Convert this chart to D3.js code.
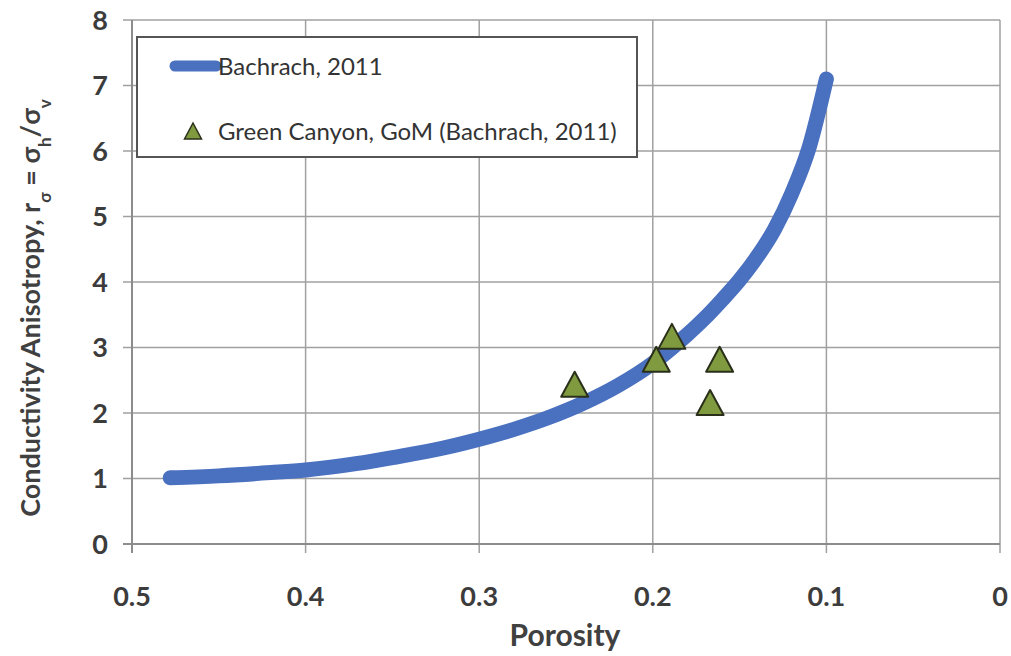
<!DOCTYPE html>
<html>
<head>
<meta charset="utf-8">
<script src="https://cdn.jsdelivr.net/npm/d3@7"></script>
<style>
  body { margin: 0; background: #fff; }
  text { font-family: Lato, "Open Sans", sans-serif; }
</style>
</head>
<body>
<div id="chart"></div>
<script>
// curve (porosity, anisotropy)
var curvePorosity = [0.478, 0.45, 0.42, 0.40, 0.37, 0.35, 0.32, 0.30, 0.28, 0.26, 0.24, 0.22, 0.20, 0.19, 0.18, 0.17, 0.16, 0.15, 0.14, 0.13, 0.12, 0.11, 0.10];
var curveAniso    = [1.01, 1.04, 1.09, 1.13, 1.23, 1.32, 1.47, 1.60, 1.75, 1.93, 2.15, 2.42, 2.76, 2.97, 3.20, 3.45, 3.73, 4.03, 4.38, 4.80, 5.35, 6.05, 7.10];

// Green Canyon points
var gcPorosity = [0.245, 0.198, 0.189, 0.1615, 0.167];
var gcAniso    = [2.44, 2.82, 3.17, 2.82, 2.16];

var xTicks = [0.5, 0.4, 0.3, 0.2, 0.1, 0];
var yTicks = [0, 1, 2, 3, 4, 5, 6, 7, 8];

var width = 1011, height = 656;
var margin = {top: 20, right: 11, bottom: 112, left: 132};

var svg = d3.select("#chart").append("svg")
  .attr("width", width)
  .attr("height", height);

var x = d3.scaleLinear().domain([0.5, 0]).range([margin.left, width - margin.right]);
var y = d3.scaleLinear().domain([0, 8]).range([height - margin.bottom, margin.top]);

/****** GRID ******/
svg.append("g").selectAll("line")
  .data(yTicks)
  .enter().append("line")
    .attr("x1", margin.left - 9).attr("x2", x(0))
    .attr("y1", d => y(d)).attr("y2", d => y(d))
    .attr("stroke", "#a0a0a0").attr("stroke-width", 1.5);

svg.append("g").selectAll("line")
  .data(xTicks)
  .enter().append("line")
    .attr("x1", d => x(d)).attr("x2", d => x(d))
    .attr("y1", y(8)).attr("y2", y(0) + 9)
    .attr("stroke", "#a0a0a0").attr("stroke-width", 1.5);

// axis lines
svg.append("line")
  .attr("x1", x(0.5)).attr("x2", x(0.5)).attr("y1", y(8)).attr("y2", y(0) + 9)
  .attr("stroke", "#8c8c8c").attr("stroke-width", 2);
svg.append("line")
  .attr("x1", x(0.5) - 9).attr("x2", x(0)).attr("y1", y(0)).attr("y2", y(0))
  .attr("stroke", "#8c8c8c").attr("stroke-width", 2);

/****** TICK LABELS ******/
svg.append("g").selectAll("text")
  .data(yTicks)
  .enter().append("text")
    .attr("x", 108).attr("y", d => y(d))
    .attr("dy", "0.36em")
    .attr("text-anchor", "end")
    .style("font-size", "27px")
    .style("font-weight", "bold")
    .style("fill", "#3c3c3c")
    .text(d => d);

svg.append("g").selectAll("text")
  .data(xTicks)
  .enter().append("text")
    .attr("x", d => x(d)).attr("y", 606)
    .attr("text-anchor", "middle")
    .style("font-size", "27px")
    .style("font-weight", "bold")
    .style("fill", "#3c3c3c")
    .text(d => d === 0 ? "0" : d3.format(".1f")(d));

/****** AXIS TITLES ******/
svg.append("text")
  .attr("x", 565).attr("y", 646)
  .attr("text-anchor", "middle")
  .style("font-size", "30px").style("font-weight", "bold").style("fill", "#404040")
  .text("Porosity");

var yt = svg.append("text")
  .attr("transform", "translate(40,308) rotate(-90)")
  .attr("text-anchor", "middle")
  .style("font-size", "27px").style("font-weight", "bold").style("fill", "#404040");
yt.append("tspan").text("Conductivity Anisotropy, r");
yt.append("tspan").attr("baseline-shift", "sub").style("font-size", "17px").text("σ");
yt.append("tspan").text(" = σ");
yt.append("tspan").attr("baseline-shift", "sub").style("font-size", "17px").text("h");
yt.append("tspan").text("/σ");
yt.append("tspan").attr("baseline-shift", "sub").style("font-size", "17px").text("v");

/****** CURVE ******/
var curve = curvePorosity.map((p, i) => [p, curveAniso[i]]);
var line = d3.line()
  .x(d => x(d[0])).y(d => y(d[1]))
  .curve(d3.curveMonotoneX);

svg.append("path")
  .datum(curve)
  .attr("d", line)
  .attr("fill", "none")
  .attr("stroke", "#4a70c0")
  .attr("stroke-width", 15)
  .attr("stroke-linecap", "round")
  .attr("stroke-linejoin", "round");

/****** POINTS ******/
// triangle centred on its bounding box, like the spreadsheet marker
function triPath(w, h) {
  return "M0," + (-h / 2) + "L" + (w / 2) + "," + (h / 2) + "L" + (-w / 2) + "," + (h / 2) + "Z";
}
svg.append("g").selectAll("path")
  .data(gcPorosity)
  .enter().append("path")
    .attr("d", triPath(27, 25))
    .attr("transform", (d, i) => "translate(" + x(d) + "," + y(gcAniso[i]) + ")")
    .attr("fill", "#7f9a3f")
    .attr("stroke", "#2a2f1a")
    .attr("stroke-width", 2)
    .attr("stroke-linejoin", "round");

/****** LEGEND ******/
var lg = svg.append("g");
lg.append("rect")
  .attr("x", 137).attr("y", 37).attr("width", 500).attr("height", 120)
  .attr("fill", "#fff").attr("stroke", "#555").attr("stroke-width", 2);
lg.append("line")
  .attr("x1", 175).attr("x2", 216).attr("y1", 66).attr("y2", 66)
  .attr("stroke", "#4a70c0").attr("stroke-width", 11).attr("stroke-linecap", "round");
lg.append("text")
  .attr("x", 218).attr("y", 75)
  .style("font-size", "24px").style("fill", "#333")
  .text("Bachrach, 2011");
lg.append("path")
  .attr("d", triPath(17, 16))
  .attr("transform", "translate(193,131)")
  .attr("fill", "#7f9a3f").attr("stroke", "#2a2f1a").attr("stroke-width", 1.5);
lg.append("text")
  .attr("x", 218).attr("y", 140)
  .style("font-size", "24px").style("fill", "#333")
  .text("Green Canyon, GoM (Bachrach, 2011)");
</script>
</body>
</html>
